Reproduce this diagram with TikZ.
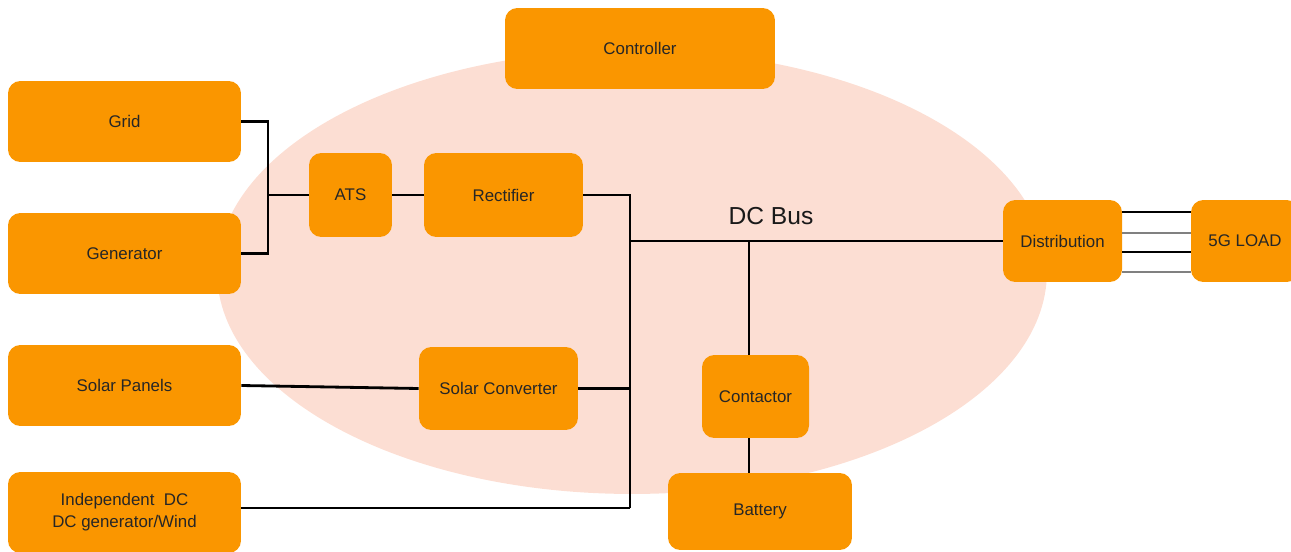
\documentclass[tikz,border=0pt]{standalone}
\usepackage{fontspec}
\setmainfont{Liberation Sans}
\definecolor{unitorange}{RGB}{250,150,0}
\definecolor{zonepeach}{RGB}{252,222,211}
\tikzset{
    unit/.style={fill=unitorange, draw=none, rounded corners=7pt, align=center,
        inner sep=0pt, text=black!85, font=\fontsize{9.6}{12.5}\selectfont},
    wire/.style={line width=1.6pt, black},
    feeder/.style={line width=0.6pt},
}
\begin{document}
\begin{tikzpicture}[x=0.02cm, y=-0.02cm]
            \useasboundingbox (0,0) rectangle (1291,551);
            \fill[zonepeach] (632,272) ellipse [x radius=8.3cm, y radius=4.44cm];

            % sources on the left
            \node[unit, minimum width=4.66cm, minimum height=1.62cm] (grid) at (124.5,121.5) {Grid};
            \node[unit, minimum width=4.66cm, minimum height=1.62cm] (gen) at (124.5,253.5) {Generator};
            \node[unit, minimum width=4.66cm, minimum height=1.62cm] (spanel) at (124.5,385.5) {Solar Panels};
            \node[unit, minimum width=4.66cm, minimum height=1.62cm] (indep) at (124.5,512.5) {Independent\ \ DC\\DC generator/Wind};

            % conversion
            \node[unit, minimum width=5.4cm, minimum height=1.62cm] (ctrl) at (640,48.5) {Controller};
            \node[unit, minimum width=1.66cm, minimum height=1.68cm] (ats) at (350.5,195) {ATS};
            \node[unit, minimum width=3.18cm, minimum height=1.68cm] (rect) at (503.5,195) {Rectifier};
            \node[unit, minimum width=3.18cm, minimum height=1.66cm] (sconv) at (498.5,388.5) {Solar Converter};

            % bus side
            \node[unit, minimum width=2.38cm, minimum height=1.64cm] (dist) at (1062.5,241) {Distribution};
            \node[unit, minimum width=2.16cm, minimum height=1.64cm] (load) at (1245,241) {5G LOAD};
            \node[unit, minimum width=2.14cm, minimum height=1.66cm] (ctr) at (755.5,396.5) {Contactor};
            \node[unit, minimum width=3.68cm, minimum height=1.54cm] (batt) at (760,511.5) {Battery};
            \node[font=\fontsize{14}{16}\selectfont, text=black!90] (buslbl) at (771,216) {DC Bus};

            \coordinate (acjoin) at (268,195);
            \coordinate (busx) at (630,241);
            \coordinate (busbot) at (630,508);
            \coordinate (tap) at (749,241);

            \draw[wire] (grid.east) -| (acjoin) |- (gen.east);
            \draw[wire] (acjoin) -- (ats.west);
            \draw[wire] (ats.east) -- (rect.west);
            \draw[wire] (rect.east) -| (busbot);
            \draw[wire] (busbot) -- (busbot -| indep.east);
            \draw[wire] (busx) -- (dist.west);
            \draw[wire] (spanel.east) -- (sconv.west);
            \draw[wire] (sconv.east) -- (sconv.east -| busx);
            \draw[wire] (tap) -- (tap |- ctr.north);
            \draw[wire] (tap |- ctr.south) -- (tap |- batt.north);
            \foreach \yy/\col in {212/black, 233/gray, 252/black, 272/gray} {
                \draw[feeder, \col] (dist.east |- 0,\yy) -- (load.west |- 0,\yy);
            }
        \end{tikzpicture}
\end{document}
